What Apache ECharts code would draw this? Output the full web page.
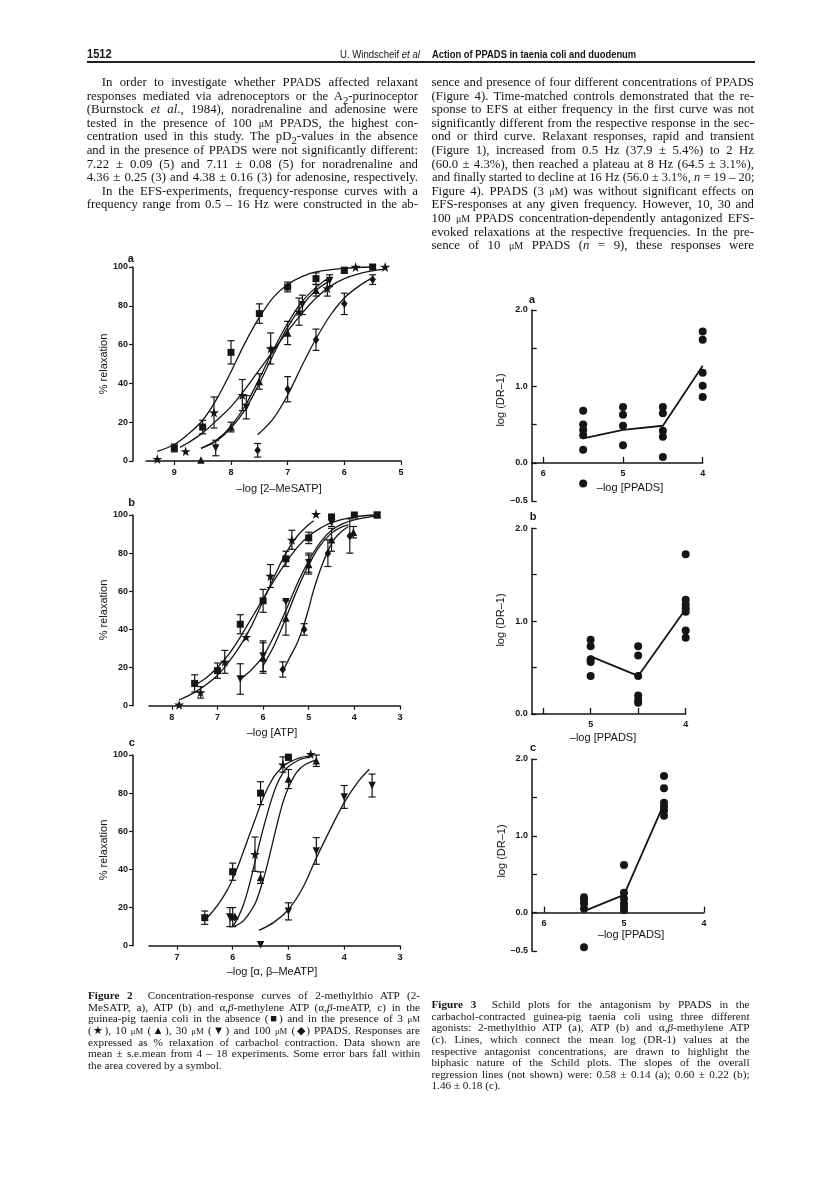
<!DOCTYPE html>
<html><head><meta charset="utf-8">
<script src="https://cdn.jsdelivr.net/npm/echarts@6/dist/echarts.min.js"></script>
<style>
html,body{margin:0;padding:0;background:#fff;}
#page{position:relative;width:816px;height:1187px;overflow:hidden;background:#fff;}
#chart{position:absolute;left:0;top:0;width:816px;height:1187px;}
.t{position:absolute;white-space:nowrap;font-family:"Liberation Serif","Times New Roman",serif;color:#151515;}
.j{text-align:justify;text-align-last:justify;}
.hd{position:absolute;white-space:nowrap;font-family:"Liberation Sans",Arial,sans-serif;color:#151515;}
.um{font-size:0.78em;}
</style></head>
<body><div id="page"><div id="chart"></div><div id="txt"></div></div>
<script>
// ---------------- Figure 2 data: [x (-log conc), % relaxation, s.e.mean] ----------------
const a_ctrl = [[9,6.7,2],[8.5,17.5,3.5],[8,56,6],[7.5,76,5],[7,89.7,2.5],[6.5,94,3],[6,98.3,1.5],[5.5,100,0]];
const a_star = [[9.3,1,0],[8.8,5,0],[8.3,25,8],[7.8,34,8],[7.3,58,8],[6.8,77,7],[6.3,89,4],[5.8,100,0],[5.28,100,0]];
const a_up   = [[8.53,0.5,0],[8,17.5,2.5],[7.5,41,4],[7,66,6],[6.5,88,3]];
const a_down = [[8.27,6.7,4],[7.73,27.7,6],[7.27,57,0],[6.74,80.5,5],[6.26,93,3]];
const a_dia  = [[7.53,5.5,3.5],[7,37,6.5],[6.5,62.5,5.5],[6,81,5.5],[5.5,93.5,2.5]];

const a_fit_ctrl = [[9.3,5],[9,8.5],[8.75,14],[8.5,21],[8.25,32],[8,46],[7.75,61],[7.5,74],[7.25,84.5],[7,91],[6.75,95],[6.5,97.5],[6,99.3],[5.5,100]];
const a_fit_star = [[8.9,7],[8.75,9.5],[8.5,14.5],[8.25,21],[8,28],[7.75,37],[7.5,47],[7.25,57],[7,67],[6.75,76],[6.5,84],[6.25,90],[6,94],[5.75,96.5],[5.5,98],[5.25,99]];
const a_fit_up   = [[8.53,6.5],[8.25,10.5],[8,17],[7.75,26.5],[7.5,40],[7.25,55],[7,69],[6.75,80],[6.5,88],[6.25,93]];
const a_fit_down = [[8.53,6.5],[8.25,11],[8,18],[7.75,28.5],[7.5,42.5],[7.25,57.5],[7,71],[6.75,82],[6.5,89.5],[6.25,95]];
const a_fit_dia  = [[7.53,13.5],[7.25,22],[7,34],[6.75,49],[6.5,63],[6.25,75],[6,84],[5.75,90],[5.5,94.5]];

const b_ctrl = [[7.5,11.7,4.5],[7,18.4,4],[6.5,42.7,5],[6,55,6],[5.5,77,4],[5,88,3],[4.5,99,1],[4,100,0],[3.5,100,1.5]];
const b_star = [[7.84,0.5,0],[7.37,7,3],[6.84,23,6],[6.37,36,0],[5.84,68,6],[5.37,87,5],[4.84,100.5,0]];
const b_up   = [[6,25,8],[5.5,46,9],[5,74,5],[4.5,87,6],[4.02,91,3]];
const b_down = [[6.5,14,8],[6,26,8],[5.5,54.5,0],[5,75,5],[4.5,96,2]];
const b_dia  = [[5.57,19,4],[5.1,40,3],[4.58,80,7],[4.1,89,9]];

const b_fit_star = [[7.84,3],[7.5,7],[7.25,11],[7,16],[6.75,23],[6.5,31.5],[6.25,42],[6,55],[5.75,68],[5.5,80],[5.25,89],[5,95],[4.89,97]];
const b_fit_ctrl = [[7.55,10],[7.25,14.5],[7,20],[6.75,27],[6.5,36],[6.25,46],[6,56],[5.75,66],[5.5,75],[5.25,83],[5,89],[4.75,93],[4.5,96],[4,99],[3.5,100]];
const b_fit_down = [[6.49,14],[6.25,19],[6,26],[5.75,37],[5.5,50],[5.25,64],[5,76],[4.75,85.5],[4.5,92],[4.25,95.5],[4,97.5],[3.5,99.5]];
const b_fit_up   = [[6,21],[5.75,32],[5.5,46],[5.25,61],[5,74],[4.75,84],[4.5,90.5],[4.3,93.5],[4.13,95]];
const b_fit_dia  = [[5.55,19],[5.4,26],[5.25,33],[5.1,43],[5,51],[4.9,60],[4.75,71],[4.6,80],[4.45,87],[4.3,91],[4.13,94]];

const c_ctrl = [[6.5,14.7,3.5],[6,38.8,4.5],[5.5,80,6],[5,98.8,1.5]];
const c_star = [[6,15,5],[5.6,48,9],[5.1,95,4],[4.6,100.5,0]];
const c_up   = [[5.96,15.5,0],[5.5,35.7,3],[5,87.4,5],[4.5,97,3]];
const c_down = [[6.05,15,5],[5.5,0.5,0],[5,18,4.5],[4.5,49.7,7],[4,78,6],[3.5,84,6]];

const c_fit_ctrl = [[6.53,13],[6.4,16.5],[6.25,22],[6.1,29],[6,35],[5.9,42],[5.75,54],[5.6,66],[5.5,74],[5.4,81],[5.25,89],[5.1,94],[5,96],[4.8,98.5],[4.6,99.5]];
const c_fit_star = [[6,10],[5.9,15],[5.8,22],[5.7,32],[5.6,44],[5.5,56],[5.4,67],[5.3,77],[5.2,85],[5.1,90.5],[5,94],[4.8,97.5],[4.6,99]];
const c_fit_up   = [[5.98,10],[5.85,12],[5.75,15],[5.6,22],[5.5,30],[5.4,40],[5.3,52],[5.2,64],[5.1,75],[5,83],[4.85,91],[4.7,95],[4.5,97.5]];
const c_fit_down = [[5.53,8],[5.25,12.5],[5,19],[4.75,30],[4.5,46],[4.25,61],[4,75],[3.75,86],[3.55,92.5]];

// ---------------- Figure 3 data: [-log PPADS, log(DR-1)] ----------------
const schildA_pts = [[5.5,0.68],[5.5,0.5],[5.5,0.43],[5.5,0.36],[5.5,0.17],[5.5,-0.27],[5,0.73],[5,0.63],[5,0.485],[5,0.23],[4.5,0.73],[4.5,0.65],[4.5,0.42],[4.5,0.34],[4.5,0.075],[4,1.72],[4,1.61],[4,1.18],[4,1.01],[4,0.86]];
const schildA_mean = [[5.5,0.32],[5,0.43],[4.5,0.485],[4,1.27]];
const schildB_pts = [[5,0.8],[5,0.73],[5,0.59],[5,0.56],[5,0.41],[4.5,0.73],[4.5,0.63],[4.5,0.41],[4.5,0.2],[4.5,0.15],[4.5,0.12],[4,1.72],[4,1.23],[4,1.18],[4,1.14],[4,1.1],[4,0.9],[4,0.82]];
const schildB_mean = [[5,0.62],[4.5,0.41],[4,1.13]];
const schildC_pts = [[5.5,0.2],[5.5,0.17],[5.5,0.12],[5.5,0.05],[5.5,-0.45],[5,0.62],[5,0.26],[5,0.18],[5,0.12],[5,0.07],[5,0.03],[4.5,1.78],[4.5,1.62],[4.5,1.43],[4.5,1.38],[4.5,1.33],[4.5,1.26]];
const schildC_mean = [[5.5,0.02],[5,0.23],[4.5,1.42]];

// tick labels
const fig2a_ticks = [5,6,7,8,9];
const fig2b_ticks = [3,4,5,6,7,8];
const fig2c_ticks = [3,4,5,6,7];
const fig3a_ticks = [4,5,6];
const fig3b_ticks = [4,4.5,5,5.5];
const fig3b_labels = [4,5];
const fig3c_ticks = [4,5,6];

// ---------------- text ----------------
const leftText = [
 ['In order to investigate whether PPADS affected relaxant',1],
 ['responses mediated via adrenoceptors or the A<sub>2</sub>-purinoceptor',0],
 ['(Burnstock <i>et al</i>., 1984), noradrenaline and adenosine were',0],
 ['tested in the presence of 100 <span class="um">μM</span> PPADS, the highest con-',0],
 ['centration used in this study. The pD<sub>2</sub>-values in the absence',0],
 ['and in the presence of PPADS were not significantly different:',0],
 ['7.22 ± 0.09 (5) and 7.11 ± 0.08 (5) for noradrenaline and',0],
 ['4.36 ± 0.25 (3) and 4.38 ± 0.16 (3) for adenosine, respectively.',0],
 ['In the EFS-experiments, frequency-response curves with a',1],
 ['frequency range from 0.5 – 16 Hz were constructed in the ab-',0]
];
const rightText = [
 'sence and presence of four different concentrations of PPADS',
 '(Figure 4). Time-matched controls demonstrated that the re-',
 'sponse to EFS at either frequency in the first curve was not',
 'significantly different from the respective response in the sec-',
 'ond or third curve. Relaxant responses, rapid and transient',
 '(Figure 1), increased from 0.5 Hz (37.9 ± 5.4%) to 2 Hz',
 '(60.0 ± 4.3%), then reached a plateau at 8 Hz (64.5 ± 3.1%),',
 'and finally started to decline at 16 Hz (56.0 ± 3.1%, <i>n</i> = 19 – 20;',
 'Figure 4). PPADS (3 <span class="um">μM</span>) was without significant effects on',
 'EFS-responses at any given frequency. However, 10, 30 and',
 '100 <span class="um">μM</span> PPADS concentration-dependently antagonized EFS-',
 'evoked relaxations at the respective frequencies. In the pre-',
 'sence of 10 <span class="um">μM</span> PPADS (<i>n</i> = 9), these responses were'
];
const cap2 = [
 '<b>Figure 2</b>&nbsp; Concentration-response curves of 2-methylthio ATP (2-',
 'MeSATP, a), ATP (b) and α,<i>β</i>-methylene ATP (α,<i>β</i>-meATP, c) in the',
 'guinea-pig taenia coli in the absence (■) and in the presence of 3 <span class="um">μM</span>',
 '(★), 10 <span class="um">μM</span> (▲), 30 <span class="um">μM</span> (▼) and 100 <span class="um">μM</span> (◆) PPADS. Responses are',
 'expressed as % relaxation of carbachol contraction. Data shown are',
 'mean ± s.e.mean from 4 – 18 experiments. Some error bars fall within',
 'the area covered by a symbol.'
];
const cap3 = [
 '<b>Figure 3</b>&nbsp; Schild plots for the antagonism by PPADS in the',
 'carbachol-contracted guinea-pig taenia coli using three different',
 'agonists: 2-methylthio ATP (a), ATP (b) and α,<i>β</i>-methylene ATP',
 '(c). Lines, which connect the mean log (DR-1) values at the',
 'respective antagonist concentrations, are drawn to highlight the',
 'biphasic nature of the Schild plots. The slopes of the overall',
 'regression lines (not shown) were: 0.58 ± 0.14 (a); 0.60 ± 0.22 (b);',
 '1.46 ± 0.18 (c).'
];

const txt = document.getElementById('txt');
function line(html, x, yc, w, fs, lh, just){
  const d = document.createElement('div');
  d.className = 't' + (just ? ' j' : '');
  d.style.left = x + 'px'; d.style.top = (yc - lh/2) + 'px';
  d.style.fontSize = fs + 'px';
  d.style.lineHeight = lh + 'px'; d.style.height = lh + 'px';
  d.innerHTML = html; txt.appendChild(d);
  const natural = d.scrollWidth;
  if (just && natural > w) {
    d.style.width = natural + 'px';
    d.style.transformOrigin = 'left center';
    d.style.transform = 'scaleX(' + (w / natural) + ')';
  } else if (just) {
    d.style.width = w + 'px';
  }
}
function hd(html, x, yc, fs, weight, targetW, alignRight){
  const d = document.createElement('div'); d.className='hd';
  d.style.top=(yc-8)+'px'; d.style.lineHeight='16px'; d.style.fontSize=fs+'px'; d.style.fontWeight=weight;
  d.innerHTML=html; txt.appendChild(d);
  const nat = d.scrollWidth, s = targetW / nat;
  d.style.left = (alignRight ? x - nat : x) + 'px';
  d.style.transformOrigin = alignRight ? 'right center' : 'left center';
  d.style.transform = 'scaleX(' + s + ')';
}
hd('1512', 86.7, 54, 12, 'bold', 25);
hd('U. Windscheif <i>et al</i>', 420, 54, 11.5, 'normal', 80, true);
hd('Action of PPADS in taenia coli and duodenum', 431.5, 54, 11.5, 'bold', 204);
const rule = document.createElement('div');
rule.style.cssText='position:absolute;left:86.7px;top:61px;width:668px;height:2px;background:#222;';
txt.appendChild(rule);

const LH = 13.6, Y0 = 82.7, FS = 12.8;
leftText.forEach((l,i)=>{ const ind = l[1] ? 15 : 0; line(l[0], 86.7+ind, Y0+i*LH, 331.3-ind, FS, LH, true); });
rightText.forEach((l,i)=>{ line(l, 431.5, Y0+i*LH, 322.5, FS, LH, true); });
const CLH = 11.6, CFS = 11.2;
cap2.forEach((l,i)=>{ line(l, 88, 996+i*CLH, 332, CFS, CLH, i < cap2.length-1); });
cap3.forEach((l,i)=>{ line(l, 431.5, 1005+i*CLH, 318, CFS, CLH, i < cap3.length-1); });

// ---------------- chart ----------------
const INK = '#151515';
const starPath = 'path://M50,0 L61,35 L98,35 L68,57 L79,91 L50,70 L21,91 L32,57 L2,35 L39,35 Z';
const chart = echarts.init(document.getElementById('chart'), null, {renderer:'canvas'});

const grids = [
  {left:146, top:267, width:255, height:194},
  {left:149, top:515, width:251, height:190.7},
  {left:149, top:755, width:251, height:190.7},
  {left:531.7, top:310, width:171, height:191},
  {left:531.7, top:528.3, width:154, height:185.7},
  {left:532, top:759, width:172, height:192}
];
const labelFont = {color:INK, fontSize:9, fontWeight:'bold', fontFamily:'Liberation Sans, Arial, sans-serif'};

function x2(gi, min, max, ticks){
  return {gridIndex:gi, type:'value', min, max, inverse:true,
    axisLine:{show:true, onZero:false, lineStyle:{color:INK, width:1.5}},
    axisTick:{show:true, inside:false, length:4, customValues:ticks, lineStyle:{color:INK, width:1.2}},
    axisLabel:Object.assign({customValues:ticks, margin:7}, labelFont),
    splitLine:{show:false}};
}
function y2(gi, off){
  return {gridIndex:gi, type:'value', min:0, max:100, interval:20, offset:off,
    axisLine:{show:true, lineStyle:{color:INK, width:1.5}},
    axisTick:{show:true, inside:false, length:4, lineStyle:{color:INK, width:1.2}},
    axisLabel:Object.assign({margin:5}, labelFont),
    splitLine:{show:false}};
}
// Schild x axis sits at log(DR-1) = 0: shift it up from the grid bottom by the pixel height of the negative range
function x3(gi, min, max, ticks, labels, shift){
  return {gridIndex:gi, type:'value', min, max, inverse:true, offset:-shift,
    axisLine:{show:true, onZero:false, lineStyle:{color:INK, width:1.5}},
    axisTick:{show:true, inside:true, length:6, customValues:ticks, lineStyle:{color:INK, width:1.3}},
    axisLabel:Object.assign({customValues:labels, margin:6}, labelFont),
    splitLine:{show:false}};
}
function y3(gi, min){
  return {gridIndex:gi, type:'value', min, max:2, interval:0.5,
    axisLine:{show:true, onZero:false, lineStyle:{color:INK, width:1.5}},
    axisTick:{show:true, inside:true, length:5, lineStyle:{color:INK, width:1.3}},
    axisLabel:Object.assign({margin:4, formatter:v => (Math.abs(v-0.5)<1e-9 || Math.abs(v-1.5)<1e-9) ? '' : (v<0 ? '\u2013' + Math.abs(v).toFixed(1) : v.toFixed(1))}, labelFont),
    splitLine:{show:false}};
}

function sym(gi, data, symbol, size, rot){
  return {type:'scatter', xAxisIndex:gi, yAxisIndex:gi, data:data.map(d=>[d[0],d[1]]), symbol, symbolSize:size,
    symbolRotate:rot||0, itemStyle:{color:INK, opacity:1}, clip:false, z:5, silent:true};
}
function err(gi, data){
  return {type:'custom', xAxisIndex:gi, yAxisIndex:gi, data:data.filter(d=>d[2]>0), clip:false, z:4, silent:true,
    encode:{x:0, y:1},
    renderItem:function(params, api){
      const x = api.value(0), y = api.value(1), e = api.value(2);
      const t = api.coord([x, y+e]), b = api.coord([x, y-e]);
      const st = {stroke:INK, lineWidth:1.2};
      return {type:'group', children:[
        {type:'line', shape:{x1:t[0], y1:t[1], x2:b[0], y2:b[1]}, style:st},
        {type:'line', shape:{x1:t[0]-3.5, y1:t[1], x2:t[0]+3.5, y2:t[1]}, style:st},
        {type:'line', shape:{x1:b[0]-3.5, y1:b[1], x2:b[0]+3.5, y2:b[1]}, style:st}
      ]};
    }};
}
function curve(gi, data, w){
  return {type:'line', xAxisIndex:gi, yAxisIndex:gi, data, smooth:data.length>4 ? 0.35 : false, symbol:'none', showSymbol:false,
    lineStyle:{color:INK, width:w||1.3}, clip:false, z:3, silent:true};
}
function dots(gi, data){
  return {type:'scatter', xAxisIndex:gi, yAxisIndex:gi, data, symbol:'circle', symbolSize:8,
    itemStyle:{color:INK, opacity:1}, clip:false, z:5, silent:true};
}

const series = [];
[a_ctrl,a_star,a_up,a_down,a_dia].forEach(d=>series.push(err(0,d)));
series.push(sym(0,a_ctrl,'rect',7), sym(0,a_star,starPath,10), sym(0,a_up,'triangle',7.5), sym(0,a_down,'triangle',7.5,180), sym(0,a_dia,'diamond',[6.5,8.5]));
[a_fit_ctrl,a_fit_star,a_fit_up,a_fit_down,a_fit_dia].forEach(d=>series.push(curve(0,d)));
[b_ctrl,b_star,b_up,b_down,b_dia].forEach(d=>series.push(err(1,d)));
series.push(sym(1,b_ctrl,'rect',7), sym(1,b_star,starPath,10), sym(1,b_up,'triangle',7.5), sym(1,b_down,'triangle',7.5,180), sym(1,b_dia,'diamond',[6.5,8.5]));
[b_fit_star,b_fit_ctrl,b_fit_down,b_fit_up,b_fit_dia].forEach(d=>series.push(curve(1,d)));
[c_ctrl,c_star,c_up,c_down].forEach(d=>series.push(err(2,d)));
series.push(sym(2,c_ctrl,'rect',7), sym(2,c_star,starPath,10), sym(2,c_up,'triangle',7.5), sym(2,c_down,'triangle',7.5,180));
[c_fit_ctrl,c_fit_star,c_fit_up,c_fit_down].forEach(d=>series.push(curve(2,d)));
series.push(dots(3,schildA_pts), curve(3,schildA_mean,1.8));
series.push(dots(4,schildB_pts), curve(4,schildB_mean,1.8));
series.push(dots(5,schildC_pts), curve(5,schildC_mean,1.8));

function gtext(text, x, y, size, weight, rot){
  return {type:'text', x, y, rotation:rot||0, silent:true,
    style:{text, fontSize:size, fontWeight:weight||'normal', fontFamily:'Liberation Sans, Arial, sans-serif', fill:INK, align:'center', verticalAlign:'middle'}};
}
const graphics = [
  gtext('a',130.7,259,11,'bold'), gtext('b',131.7,503,11,'bold'), gtext('c',131.7,743,11,'bold'),
  gtext('% relaxation',104,364,11,'normal',Math.PI/2),
  gtext('% relaxation',104,610,11,'normal',Math.PI/2),
  gtext('% relaxation',104,850,11,'normal',Math.PI/2),
  gtext('\u2013log [2\u2013MeSATP]',279,489,11),
  gtext('\u2013log [ATP]',272,733,11),
  gtext('\u2013log [\u03b1, \u03b2\u2013MeATP]',272,972,11),
  gtext('a',532,300,11,'bold'), gtext('b',533,517,11,'bold'), gtext('c',533,748,11,'bold'),
  gtext('log (DR\u20131)',501,400,11,'normal',Math.PI/2),
  gtext('log (DR\u20131)',501,620,11,'normal',Math.PI/2),
  gtext('log (DR\u20131)',502,851,11,'normal',Math.PI/2),
  gtext('\u2013log [PPADS]',630,488,11),
  gtext('\u2013log [PPADS]',603,738,11),
  gtext('\u2013log [PPADS]',631,935,11)
];

chart.setOption({
  animation:false,
  backgroundColor:'transparent',
  grid:grids,
  xAxis:[ x2(0,5,9.5,fig2a_ticks), x2(1,3,8.5,fig2b_ticks), x2(2,3,7.5,fig2c_ticks),
          x3(3,4,6.146,fig3a_ticks,fig3a_ticks,191*0.5/2.5), x3(4,4,5.62,fig3b_ticks,fig3b_labels,0), x3(5,4,6.15,fig3c_ticks,fig3c_ticks,192*0.5/2.5) ],
  yAxis:[ y2(0,13), y2(1,16), y2(2,16), y3(3,-0.5), y3(4,0), y3(5,-0.5) ],
  series,
  graphic:graphics
});
</script>
</body></html>
